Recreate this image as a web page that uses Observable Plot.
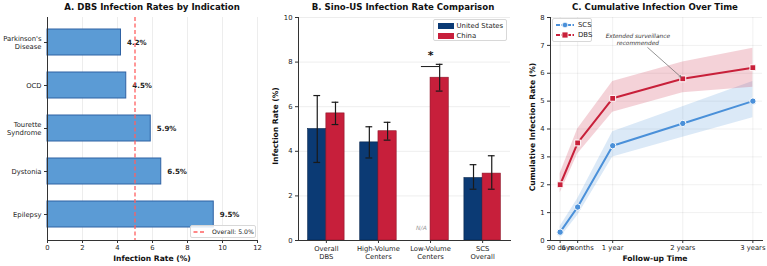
<!DOCTYPE html>
<html><head><meta charset="utf-8">
<script src="https://cdn.jsdelivr.net/npm/d3@7"></script>
<script src="https://cdn.jsdelivr.net/npm/@observablehq/plot@0.6"></script>
<style>
body{margin:0;background:#fff;font-family:"DejaVu Sans",sans-serif;}
#root{position:relative;width:767px;height:266px;overflow:hidden;background:#fff;}
.panel{position:absolute;top:0;}
.title{position:absolute;font-weight:bold;font-size:8.6px;white-space:nowrap;transform:translate(-50%,-50%);color:#111;}
.xl{position:absolute;font-weight:bold;font-size:7.6px;white-space:nowrap;transform:translate(-50%,-50%);color:#111;}
.yl{position:absolute;font-weight:bold;font-size:7.6px;white-space:nowrap;transform:translate(-50%,-50%) rotate(-90deg);color:#111;}
.legend{position:absolute;background:rgba(255,255,255,0.85);border:1px solid #d8d8d8;border-radius:2px;color:#222;box-sizing:border-box;}
.lrow{position:absolute;display:flex;align-items:center;white-space:nowrap;}
</style>
</head><body>
<div id="root"></div>
<script>
// ---- Panel A data ----
const indications = ["Parkinson's\nDisease", "OCD", "Tourette\nSyndrome", "Dystonia", "Epilepsy"];
const indicationRates = [4.2, 4.5, 5.9, 6.5, 9.5];
const overallRate = 5.0;

// ---- Panel B data ----
const compGroups = ["Overall\nDBS", "High-Volume\nCenters", "Low-Volume\nCenters", "SCS\nOverall"];
const countries = ["United States", "China"];
const usRates = [5.0, 4.4, null, 2.8];
const usLow = [3.5, 3.7, null, 2.3];
const usHigh = [6.5, 5.1, null, 3.4];
const cnRates = [5.7, 4.9, 7.3, 3.0];
const cnLow = [5.2, 4.5, 6.7, 2.3];
const cnHigh = [6.2, 5.3, 7.9, 3.8];
const sigGroup = 2, sigLineY = 7.8, sigStarY = 8.3, naY = 0.55;

// ---- Panel C data ----
const followMonths = [3, 6, 12, 24, 36];
const followLabels = ["90 days", "6 months", "1 year", "2 years", "3 years"];
const scsRates = [0.3, 1.2, 3.4, 4.2, 5.0];
const scsLow = [0.1, 0.9, 3.0, 3.7, 4.4];
const scsHigh = [0.5, 1.5, 3.9, 4.8, 5.7];
const dbsRates = [2.0, 3.5, 5.1, 5.8, 6.2];
const dbsLow = [1.7, 3.1, 4.6, 5.3, 5.5];
const dbsHigh = [2.4, 4.0, 5.7, 6.4, 6.9];
const noteText = "Extended surveillance\nrecommended";
const noteAt = [16.3, 7.22];
const arrowFrom = [18.0, 6.92];
const arrowTo = [23.7, 5.86];

// colors
const barBlue = "#5b9bd5", barBlueEdge = "#2f62a3", refRed = "#ff6060";
const usColor = "#0b3a74", cnColor = "#c71f3b";
const scsColor = "#4a90d9", dbsColor = "#c8203a";
const spine = "#333";

const root = document.getElementById("root");
const baseStyle = {fontFamily: "DejaVu Sans", fontSize: "6.8px", color: "#222", background: "transparent", overflow: "visible"};

function place(el, left) { el.classList.add("panel"); el.style.left = left + "px"; root.appendChild(el); }
function addDiv(cls, text, x, y) { const d = document.createElement("div"); d.className = cls; d.textContent = text; d.style.left = x + "px"; d.style.top = y + "px"; root.appendChild(d); return d; }

// ---------- Panel A ----------
const dataA = indications.map((k, i) => ({indication: k, rate: indicationRates[i]}));
const plotA = Plot.plot({
  width: 262, height: 266, marginLeft: 47, marginRight: 5, marginTop: 17, marginBottom: 26,
  style: baseStyle,
  x: {domain: [0, 12]},
  y: {domain: indications, paddingInner: 0.39, paddingOuter: 0.23},
  marks: [
    Plot.gridX(d3.range(0, 13, 2), {stroke: "#000", strokeOpacity: 0.07}),
    Plot.barX(dataA, {x: "rate", y: "indication", fill: barBlue, stroke: barBlueEdge, strokeWidth: 1}),
    Plot.text(dataA, {x: "rate", y: "indication", text: d => d.rate.toFixed(1) + "%", dx: 6, textAnchor: "start", fontWeight: "bold", fontSize: 7.1, fill: "#222"}),
    Plot.ruleX([overallRate], {stroke: refRed, strokeWidth: 1.3, strokeDasharray: "4,2.5"}),
    Plot.axisX(d3.range(0, 13, 2), {tickSize: 3, tickPadding: 2, fontSize: 6.8, label: null, stroke: spine}),
    Plot.axisY({tickSize: 3, tickPadding: 3, fontSize: 6.8, label: null, lineHeight: 1.22, stroke: spine}),
    Plot.frame({anchor: "left", stroke: spine}),
    Plot.frame({anchor: "bottom", stroke: spine})
  ]
});
place(plotA, 0);

// ---------- Panel B ----------
const barW = 0.35, capHalf = 0.065;
const compData = [];
compGroups.forEach((g, i) => {
  if (usRates[i] != null) compData.push({country: countries[0], i, x1: i - barW, x2: i, c: i - barW / 2, rate: usRates[i], lo: usLow[i], hi: usHigh[i]});
  if (cnRates[i] != null) compData.push({country: countries[1], i, x1: i, x2: i + barW, c: i + barW / 2, rate: cnRates[i], lo: cnLow[i], hi: cnHigh[i]});
});
const usData = compData.filter(d => d.country === countries[0]);
const cnData = compData.filter(d => d.country === countries[1]);
const naData = compGroups.map((g, i) => ({i, v: usRates[i]})).filter(d => d.v == null);
const capData = compData.flatMap(d => [{c: d.c, y: d.lo}, {c: d.c, y: d.hi}]);
const plotB = Plot.plot({
  width: 253, height: 266, marginLeft: 36, marginRight: 5, marginTop: 17, marginBottom: 26,
  style: baseStyle,
  x: {domain: [-0.535, 3.535]},
  y: {domain: [0, 10]},
  marks: [
    Plot.gridY(d3.range(0, 11, 2), {stroke: "#000", strokeOpacity: 0.07}),
    Plot.rectY(usData, {x1: "x1", x2: "x2", y1: 0, y2: "rate", fill: usColor, stroke: "#06254d", strokeWidth: 0.6}),
    Plot.rectY(cnData, {x1: "x1", x2: "x2", y1: 0, y2: "rate", fill: cnColor, stroke: "#8e1428", strokeWidth: 0.6}),
    Plot.ruleX(compData, {x: "c", y1: "lo", y2: "hi", stroke: "#1a1a1a", strokeWidth: 1.2}),
    Plot.ruleY(capData, {x1: d => d.c - capHalf, x2: d => d.c + capHalf, y: "y", stroke: "#1a1a1a", strokeWidth: 1.2}),
    Plot.ruleY([sigLineY], {x1: sigGroup - barW / 2, x2: sigGroup + barW / 2, stroke: "#1a1a1a", strokeWidth: 1}),
    Plot.text([sigStarY], {x: sigGroup, y: d => d, text: () => "*", fontSize: 11, fontWeight: "bold", fill: "#111"}),
    Plot.text(naData, {x: d => d.i - barW / 2, y: () => naY, text: () => "N/A", fontStyle: "italic", fontSize: 6, fill: "#999"}),
    Plot.axisX([0, 1, 2, 3], {tickFormat: d => compGroups[d], tickSize: 3, tickPadding: 2, fontSize: 6.8, lineHeight: 1.15, label: null, stroke: spine}),
    Plot.axisY(d3.range(0, 11, 2), {tickSize: 3, tickPadding: 3, fontSize: 6.8, label: null, stroke: spine}),
    Plot.frame({anchor: "left", stroke: spine}),
    Plot.frame({anchor: "bottom", stroke: spine})
  ]
});
place(plotB, 262);

// ---------- Panel C ----------
const seriesC = [
  {name: "SCS", color: scsColor, symbol: "circle", rates: scsRates, lo: scsLow, hi: scsHigh},
  {name: "DBS", color: dbsColor, symbol: "square", rates: dbsRates, lo: dbsLow, hi: dbsHigh}
];
const marksC = [
  Plot.gridX(followMonths, {stroke: "#000", strokeOpacity: 0.06}),
  Plot.gridY(d3.range(0, 9), {stroke: "#000", strokeOpacity: 0.06})
];
for (const s of seriesC) {
  const rows = followMonths.map((m, i) => ({m, v: s.rates[i], lo: s.lo[i], hi: s.hi[i]}));
  marksC.push(Plot.areaY(rows, {x: "m", y1: "lo", y2: "hi", fill: s.color, fillOpacity: 0.2}));
}
for (const s of seriesC) {
  const rows = followMonths.map((m, i) => ({m, v: s.rates[i]}));
  marksC.push(Plot.line(rows, {x: "m", y: "v", stroke: s.color, strokeWidth: 2}));
  marksC.push(Plot.dot(rows, {x: "m", y: "v", symbol: s.symbol, r: s.symbol === "square" ? 3.3 : 3.2, fill: s.color, stroke: "#fff", strokeWidth: 1}));
}
marksC.push(
  Plot.arrow([{a: arrowFrom, b: arrowTo}], {x1: d => d.a[0], y1: d => d.a[1], x2: d => d.b[0], y2: d => d.b[1], stroke: "#666", strokeWidth: 0.7, headLength: 4}),
  Plot.text([noteText], {x: () => noteAt[0], y: () => noteAt[1], text: d => d, fontStyle: "italic", fontSize: 5.8, lineHeight: 1.2, fill: "#333"}),
  Plot.axisX(followMonths, {tickFormat: d => followLabels[followMonths.indexOf(d)], tickSize: 3, tickPadding: 2, fontSize: 6.8, label: null, stroke: spine}),
  Plot.axisY(d3.range(0, 9), {tickSize: 3, tickPadding: 3, fontSize: 6.8, label: null, stroke: spine}),
  Plot.frame({anchor: "left", stroke: spine}),
  Plot.frame({anchor: "bottom", stroke: spine})
);
const plotC = Plot.plot({
  width: 252, height: 266, marginLeft: 35, marginRight: 5, marginTop: 17, marginBottom: 26,
  style: baseStyle,
  x: {domain: [1.35, 37.65]},
  y: {domain: [0, 8]},
  marks: marksC
});
place(plotC, 515);

// ---------- Titles & axis labels ----------
addDiv("title", "A. DBS Infection Rates by Indication", 152, 6.5);
addDiv("title", "B. Sino-US Infection Rate Comparison", 403, 6.5);
addDiv("title", "C. Cumulative Infection Over Time", 655, 6.5);
addDiv("xl", "Infection Rate (%)", 152, 258);
addDiv("yl", "Infection Rate (%)", 275, 126);
addDiv("xl", "Follow-up Time", 655, 258);
addDiv("yl", "Cumulative Infection Rate (%)", 532, 127);

// ---------- Legends ----------
const NS = "http://www.w3.org/2000/svg";
function swatchSVG(w, h, draw) { const s = document.createElementNS(NS, "svg"); s.setAttribute("width", w); s.setAttribute("height", h); s.innerHTML = draw; s.style.display = "block"; return s; }
function legend(left, top, w, h) { const d = document.createElement("div"); d.className = "legend"; Object.assign(d.style, {left: left + "px", top: top + "px", width: w + "px", height: h + "px"}); root.appendChild(d); return d; }
function row(box, top, left, svg, text, fs, gap) {
  const r = document.createElement("div"); r.className = "lrow";
  Object.assign(r.style, {top: top + "px", left: left + "px", fontSize: fs + "px", gap: gap + "px"});
  r.appendChild(svg); const t = document.createElement("span"); t.textContent = text; r.appendChild(t); box.appendChild(r);
}
// A
const lgA = legend(190, 225, 66, 13);
row(lgA, 2, 2, swatchSVG(12, 6, `<line x1="0.5" y1="3" x2="11.5" y2="3" stroke="${refRed}" stroke-width="1.3" stroke-dasharray="4,2.5"/>`), "Overall: " + overallRate.toFixed(1) + "%", 6.2, 7);
// B
const lgB = legend(433, 19, 74, 22);
row(lgB, 1.5, 3.5, swatchSVG(16, 6, `<rect x="0" y="0" width="16" height="6" fill="${usColor}"/>`), countries[0], 6.9, 3);
row(lgB, 11.5, 3.5, swatchSVG(16, 6, `<rect x="0" y="0" width="16" height="6" fill="${cnColor}"/>`), countries[1], 6.9, 3);
// C
const lgC = legend(552, 18, 40, 24);
row(lgC, 1.5, 3, swatchSVG(18, 8, `<line x1="0" y1="4" x2="18" y2="4" stroke="${scsColor}" stroke-width="1.8" stroke-dasharray="4,1.5"/><circle cx="9" cy="4" r="2.8" fill="${scsColor}" stroke="#fff" stroke-width="0.8"/>`), seriesC[0].name, 6.9, 4);
row(lgC, 12, 3, swatchSVG(18, 8, `<line x1="0" y1="4" x2="18" y2="4" stroke="${dbsColor}" stroke-width="1.8" stroke-dasharray="4,1.5"/><rect x="6" y="1" width="6" height="6" fill="${dbsColor}" stroke="#fff" stroke-width="0.8"/>`), seriesC[1].name, 6.9, 4);
</script>
</body></html>
